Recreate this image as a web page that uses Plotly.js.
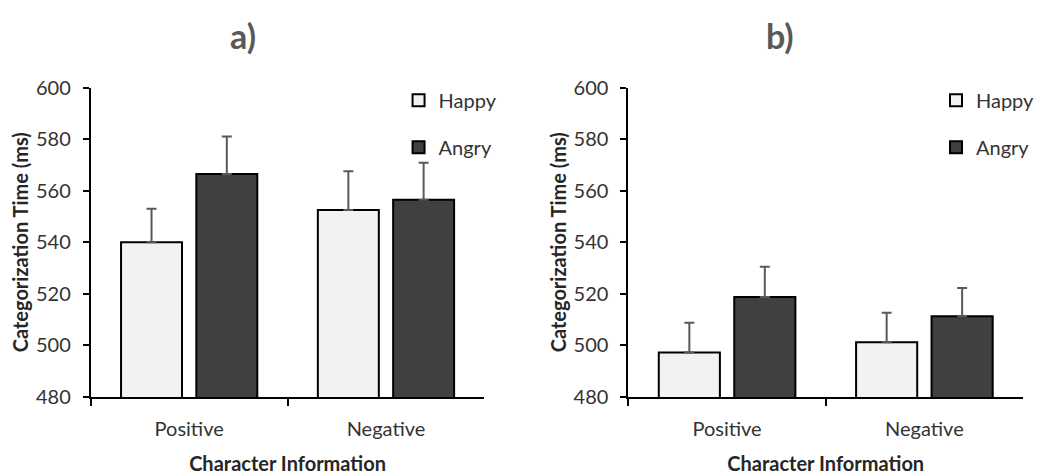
<!DOCTYPE html>
<html>
<head>
<meta charset="utf-8">
<script src="https://cdn.plot.ly/plotly-3.0.1.min.js"></script>
<style>html,body{margin:0;padding:0;background:#fff;}#chart{width:1040px;height:475px;}</style>
</head>
<body>
<div id="chart"></div>
<script>
const categories = ["Positive", "Negative"];
const happyA = [540, 552.5];
const happyAErr = [13, 15];
const angryA = [566.5, 556.5];
const angryAErr = [14.5, 14.3];
const happyB = [497.3, 501.2];
const happyBErr = [11.5, 11.5];
const angryB = [518.8, 511.3];
const angryBErr = [11.7, 11];
const yTicks = [480, 500, 520, 540, 560, 580, 600];

const FONT = "Lato, 'Open Sans', sans-serif";
const happyColor = "#f2f2f2";
const angryColor = "#404040";

function bar(name, y, err, color, xa, ya, leg, grp) {
  return {
    type: "bar", name: name, x: categories, y: y,
    xaxis: xa, yaxis: ya, legend: leg, legendgroup: grp,
    marker: {color: color, line: {color: "#000", width: 2}},
    error_y: {type: "data", symmetric: false, array: err, arrayminus: err.map(() => 0),
              color: "#595959", thickness: 2, width: 5}
  };
}

const data = [
  bar("Happy", happyA, happyAErr, happyColor, "x", "y", "legend", "h1"),
  bar("Angry", angryA, angryAErr, angryColor, "x", "y", "legend", "a1"),
  bar("Happy", happyB, happyBErr, happyColor, "x2", "y2", "legend2", "h2"),
  bar("Angry", angryB, angryBErr, angryColor, "x2", "y2", "legend2", "a2")
];

const yDom = [(475 - 397) / 475, (475 - 87.5) / 475];
function xax(dom, anchor) {
  return {
    domain: dom, anchor: anchor, type: "category",
    showline: true, linecolor: "#000", linewidth: 2,
    ticks: "outside", tickson: "boundaries", ticklen: 7, tickcolor: "#000", tickwidth: 2,
    ticklabelstandoff: 13,
    tickfont: {family: FONT, size: 20, color: "#333"},
    showgrid: false, zeroline: false,
    title: {text: "Character Information", font: {family: FONT, size: 20, color: "#262626", weight: "bold"}, standoff: 18}
  };
}
function yax(anchor) {
  return {
    domain: yDom, anchor: anchor, range: [480, 600], tickvals: yTicks,
    showline: true, linecolor: "#000", linewidth: 2,
    ticks: "outside", ticklen: 6, tickcolor: "#000", tickwidth: 2,
    ticklabelstandoff: 8,
    tickfont: {family: FONT, size: 20, color: "#333"},
    showgrid: false, zeroline: false,
    title: {text: "Categorization Time (ms)", font: {family: FONT, size: 20, color: "#262626", weight: "bold"}, standoff: 2}
  };
}
function leg(x) {
  return {
    x: x, y: 0.83, xanchor: "left", yanchor: "top",
    traceorder: "grouped", tracegroupgap: 18,
    font: {family: FONT, size: 20, color: "#333"},
    bgcolor: "rgba(0,0,0,0)"
  };
}

const layout = {
  width: 1040, height: 475,
  margin: {l: 0, r: 0, t: 0, b: 0},
  paper_bgcolor: "#fff", plot_bgcolor: "#fff",
  barmode: "group", bargap: 0.235, bargroupgap: 0.19,
  showlegend: true,
  xaxis: xax([92 / 1040, 491 / 1040], "y"),
  yaxis: yax("x"),
  xaxis2: xax([637 / 1040, 1037 / 1040], "y2"),
  yaxis2: yax("x2"),
  legend: leg(404 / 1040),
  legend2: leg(949 / 1040),
  annotations: [
    {text: "a)", xref: "paper", yref: "paper", x: 246 / 1040, y: (475 - 36) / 475, showarrow: false,
     xanchor: "center", yanchor: "middle", font: {family: FONT, size: 34, color: "#595959", weight: "bold"}},
    {text: "b)", xref: "paper", yref: "paper", x: 791 / 1040, y: (475 - 36) / 475, showarrow: false,
     xanchor: "center", yanchor: "middle", font: {family: FONT, size: 34, color: "#595959", weight: "bold"}}
  ]
};

Plotly.newPlot("chart", data, layout, {staticPlot: true, displayModeBar: false});
</script>
</body>
</html>
